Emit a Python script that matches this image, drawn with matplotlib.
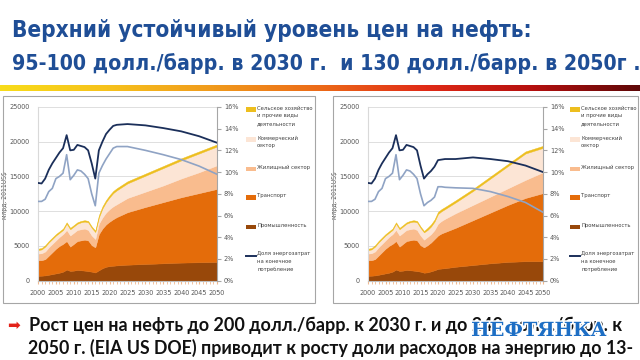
import numpy as np
import matplotlib
matplotlib.use('Agg')
import matplotlib.pyplot as plt
import matplotlib.patheffects as pe
from matplotlib.patches import Rectangle
from matplotlib.lines import Line2D
from matplotlib.colors import LinearSegmentedColormap

NARROW = ['Liberation Sans Narrow', 'DejaVu Sans']
plt.rcParams['font.family'] = NARROW
plt.rcParams['font.stretch'] = 'condensed'

# ---- data ----
years = [2000, 2001, 2002, 2003, 2004, 2005, 2006, 2007, 2008, 2009, 2010,
         2011, 2012, 2013, 2014, 2015, 2016, 2017, 2018, 2019, 2020, 2021,
         2022, 2025, 2030, 2035, 2040, 2045, 2050]

# left chart: base case
l_industry = [700, 720, 760, 850, 950, 1050, 1150, 1300, 1600, 1400, 1450,
              1550, 1500, 1450, 1380, 1300, 1180, 1500, 1800, 2000, 2100, 2150,
              2200, 2300, 2400, 2500, 2600, 2650, 2700]
l_transport = [2250, 2230, 2340, 2750, 3150, 3550, 3850, 4000, 4100, 3500, 3850,
               4150, 4300, 4450, 4420, 3800, 3620, 5200, 5700, 6100, 6400, 6700,
               6950, 7550, 8200, 8800, 9400, 9950, 10500]
l_housing = [950, 1000, 1100, 1200, 1200, 1200, 1300, 1400, 1600, 1600, 1600,
             1600, 1600, 1600, 1500, 1400, 1200, 1500, 1600, 1700, 1800, 1850,
             1850, 2050, 2200, 2400, 2700, 3000, 3400]
l_commerce = [500, 550, 700, 700, 700, 700, 600, 600, 900, 900, 900,
              900, 1000, 1000, 1100, 1100, 1000, 900, 1300, 1500, 1700, 1900,
              2000, 2100, 2300, 2500, 2600, 2700, 2700]
l_agro = [200, 200, 200, 200, 200, 200, 200, 200, 200, 200, 200,
          200, 200, 200, 200, 200, 200, 300, 300, 300, 300, 300,
          300, 300, 300, 300, 300, 300, 300]
l_share = [9.0, 8.95, 9.4, 10.2, 10.8, 11.3, 11.8, 12.2, 13.4, 12.0, 12.05,
           12.5, 12.4, 12.3, 12.0, 10.8, 9.4, 12.0, 12.8, 13.5, 13.9, 14.25,
           14.35, 14.42, 14.3, 14.05, 13.75, 13.3, 12.7]
l_share2 = [7.3, 7.3, 7.5, 8.2, 8.5, 9.4, 9.6, 9.9, 11.6, 9.3, 9.7,
            10.2, 10.1, 9.8, 9.4, 8.0, 6.9, 9.9, 10.6, 11.2, 11.7, 12.2,
            12.35, 12.35, 12.0, 11.6, 11.15, 10.55, 9.8]

# right chart: high price case
r_industry = [700, 720, 760, 850, 950, 1050, 1150, 1300, 1600, 1400, 1450,
              1550, 1500, 1450, 1380, 1300, 1150, 1200, 1350, 1500, 1700, 1750,
              1800, 2000, 2250, 2500, 2700, 2800, 2800]
r_transport = [2250, 2230, 2340, 2750, 3150, 3550, 3850, 4000, 4100, 3500, 3850,
               4150, 4300, 4450, 4420, 3800, 3650, 3900, 4150, 4500, 4800, 5050,
               5200, 5600, 6450, 7300, 8200, 9100, 9800]
r_housing = [950, 1000, 1100, 1200, 1200, 1200, 1300, 1400, 1600, 1600, 1600,
             1600, 1600, 1600, 1500, 1400, 1100, 1200, 1200, 1300, 1700, 1800,
             1900, 2100, 2200, 2300, 2400, 2600, 3000]
r_commerce = [500, 550, 700, 700, 700, 700, 600, 600, 900, 900, 900,
              900, 1000, 1000, 1100, 1100, 1050, 1000, 1100, 1200, 1400, 1400,
              1400, 1550, 2000, 2600, 3200, 3800, 3500]
r_agro = [200, 200, 200, 200, 200, 200, 200, 200, 200, 200, 200,
          200, 200, 200, 200, 200, 200, 300, 300, 300, 300, 300,
          300, 300, 300, 300, 300, 300, 300]
r_share = [9.0, 8.95, 9.4, 10.2, 10.8, 11.3, 11.8, 12.2, 13.4, 12.0, 12.05,
           12.5, 12.4, 12.3, 12.0, 10.6, 9.4, 9.8, 10.1, 10.5, 11.1, 11.15,
           11.2, 11.2, 11.35, 11.2, 11.0, 10.6, 10.0]
r_share2 = [7.3, 7.3, 7.5, 8.2, 8.5, 9.4, 9.6, 9.9, 11.6, 9.3, 9.7,
            10.2, 10.1, 9.8, 9.4, 8.0, 6.9, 7.2, 7.4, 7.7, 8.65, 8.65,
            8.6, 8.55, 8.5, 8.2, 7.75, 7.2, 6.3]

legend_labels = ["Сельское хозяйство\nи прочие виды\nдеятельности",
                 "Коммерческий\nсектор",
                 "Жилищный сектор",
                 "Транспорт",
                 "Промышленность",
                 "Доля энергозатрат\nна конечное\nпотребление"]

title_1 = "Верхний устойчивый уровень цен на нефть:"
title_2 = "95-100 долл./барр. в 2030 г.  и 130 долл./барр. в 2050г ."
bullet_1 = "Рост цен на нефть до 200 долл./барр. к 2030 г. и до 240 долл./барр. к"
bullet_2 = "2050 г. (EIA US DOE) приводит к росту доли расходов на энергию до 13-"

C_AGRO = '#EDBE1E'
C_COMM = '#FCE5D5'
C_HOUS = '#F9BC8E'
C_TRAN = '#E46C0A'
C_IND = '#98480A'
C_SHARE = '#1B2F5A'
C_SHARE2 = '#8FA3C4'
GREY = '#595959'
TICK_FS = 5.2

W, H = 640, 360


def fx(px):
    return px / W


def fy(py):
    return 1 - py / H


fig = plt.figure(figsize=(6.4, 3.6), dpi=100)
fig.patch.set_facecolor('white')
renderer = fig.canvas.get_renderer()


def fit_width(t, width_px):
    w = t.get_window_extent(renderer).width
    t.set_fontsize(t.get_fontsize() * width_px / w)
    return t.get_fontsize()


# ---- title ----
t1 = fig.text(fx(12), fy(36.5), title_1, fontsize=20, fontweight='bold',
              color='#1F4E96', ha='left', va='baseline')
t2 = fig.text(fx(12), fy(70), title_2, fontsize=20, fontweight='bold',
              color='#1F4E96', ha='left', va='baseline')
fit_width(t1, 519)
fit_width(t2, 624)

# gradient bar under the title
grad = LinearSegmentedColormap.from_list(
    'bar', ['#F8DC1A', '#F6C21C', '#F09A1C', '#EC6A18', '#E02A16', '#B5100F', '#5E0808'])
gax = fig.add_axes([0, fy(91), 1, 6 / H])
gax.imshow(np.linspace(0, 1, 256)[None, :], cmap=grad, aspect='auto')
gax.axis('off')

# legend text size: widest legend line has to fit beside the right chart
probe = fig.text(0, 0, "Сельское хозяйство", fontsize=6)
LEG_FS = fit_width(probe, 56)
probe.remove()


# ---- charts ----
def draw_chart(x0, x1, box, leg_x, industry, transport, housing, commerce, agro,
               share, share2):
    fig.add_artist(Rectangle((fx(box[0]), fy(box[3])), (box[2] - box[0]) / W,
                             (box[3] - box[1]) / H, transform=fig.transFigure,
                             fill=False, ec='#A6A6A6', lw=0.8))
    ax = fig.add_axes([fx(x0), fy(280.7), (x1 - x0) / W, 173.8 / H])
    polys = ax.stackplot(years, industry, transport, housing, commerce, agro,
                         colors=[C_IND, C_TRAN, C_HOUS, C_COMM, C_AGRO], lw=0.3)
    for p in polys:
        p.set_edgecolor(p.get_facecolor())
    ax.set_xlim(2000, 2050)
    ax.set_ylim(0, 25000)
    ax.set_yticks(range(0, 25001, 5000))
    ax.set_xticks(range(2000, 2051, 5))
    ax.set_xticks(range(2000, 2051, 1), minor=True)
    ax.yaxis.grid(True, color='#D9D9D9', lw=0.6)
    ax.set_axisbelow(True)
    ax.tick_params(axis='y', length=0, pad=6, labelsize=TICK_FS, labelcolor=GREY)
    ax.tick_params(axis='x', which='major', length=2, pad=5, labelsize=TICK_FS,
                   labelcolor=GREY, color='#F2B98F')
    ax.tick_params(axis='x', which='minor', length=2, color='#F2B98F')
    for s in ['top', 'right']:
        ax.spines[s].set_visible(False)
    ax.spines['left'].set_color('#D9D9D9')
    ax.spines['bottom'].set_color('#BFBFBF')
    ax.set_ylabel("млрд. 2011US$", fontsize=TICK_FS - 0.3, color=GREY)
    ax.yaxis.set_label_coords((box[0] + 5 - x0) / (x1 - x0), 0.49)

    ax2 = ax.twinx()
    ax2.plot(years, share2, color=C_SHARE2, lw=1.2)
    ax2.plot(years, share, color=C_SHARE, lw=1.3)
    ax2.set_ylim(0, 16)
    ax2.set_yticks(range(0, 17, 2))
    ax2.set_yticklabels([f"{v}%" for v in range(0, 17, 2)])
    ax2.tick_params(axis='y', length=3, pad=2, labelsize=TICK_FS, labelcolor=GREY,
                    color='#A6A6A6')
    for s in ['top', 'left', 'bottom']:
        ax2.spines[s].set_visible(False)
    ax2.spines['right'].set_color('#A6A6A6')

    # legend, Excel style: patch aligned with first text line
    leg_y = [109.5, 139.5, 169, 197.5, 227, 255.5]
    leg_c = [C_AGRO, C_COMM, C_HOUS, C_TRAN, C_IND, None]
    for lab, c, y in zip(legend_labels, leg_c, leg_y):
        if c is None:
            fig.add_artist(Line2D([fx(leg_x), fx(leg_x + 10)], [fy(y), fy(y)],
                                  transform=fig.transFigure, color=C_SHARE, lw=1.4))
        else:
            fig.add_artist(Rectangle((fx(leg_x), fy(y + 2.2)), 10 / W, 4.4 / H,
                                     transform=fig.transFigure, fc=c, ec='none'))
        fig.text(fx(leg_x + 11), fy(y - 4.0), lab, fontsize=LEG_FS, color='#404040',
                 ha='left', va='top', linespacing=1.7)


draw_chart(38, 217, (3, 96, 315, 303), 246, l_industry, l_transport, l_housing,
           l_commerce, l_agro, l_share, l_share2)
draw_chart(368, 543, (333, 96, 638, 303), 570, r_industry, r_transport, r_housing,
           r_commerce, r_agro, r_share, r_share2)

# ---- bullet text ----
fig.text(fx(13), fy(325), "➡", fontsize=11, color='#E32219', ha='center',
         va='center', family='DejaVu Sans', fontstretch='normal')
b1 = fig.text(fx(29), fy(331), bullet_1, fontsize=12, fontweight='bold',
              family='Lato', fontstretch='normal', color='#111111',
              ha='left', va='baseline')
b2 = fig.text(fx(28), fy(354), bullet_2, fontsize=12, fontweight='bold',
              family='Lato', fontstretch='normal', color='#111111',
              ha='left', va='baseline')
fit_width(b1, 593)
fit_width(b2, 599)

# watermark
wm = fig.text(fx(539), fy(331), "НЕФТЯНКА", fontsize=14, fontweight='bold',
              family='DejaVu Serif', fontstretch='normal', color='#1D6EC4',
              ha='center', va='center',
              path_effects=[pe.withStroke(linewidth=2.2, foreground='white')])
fit_width(wm, 136)

fig.savefig("out.png", dpi=100)
